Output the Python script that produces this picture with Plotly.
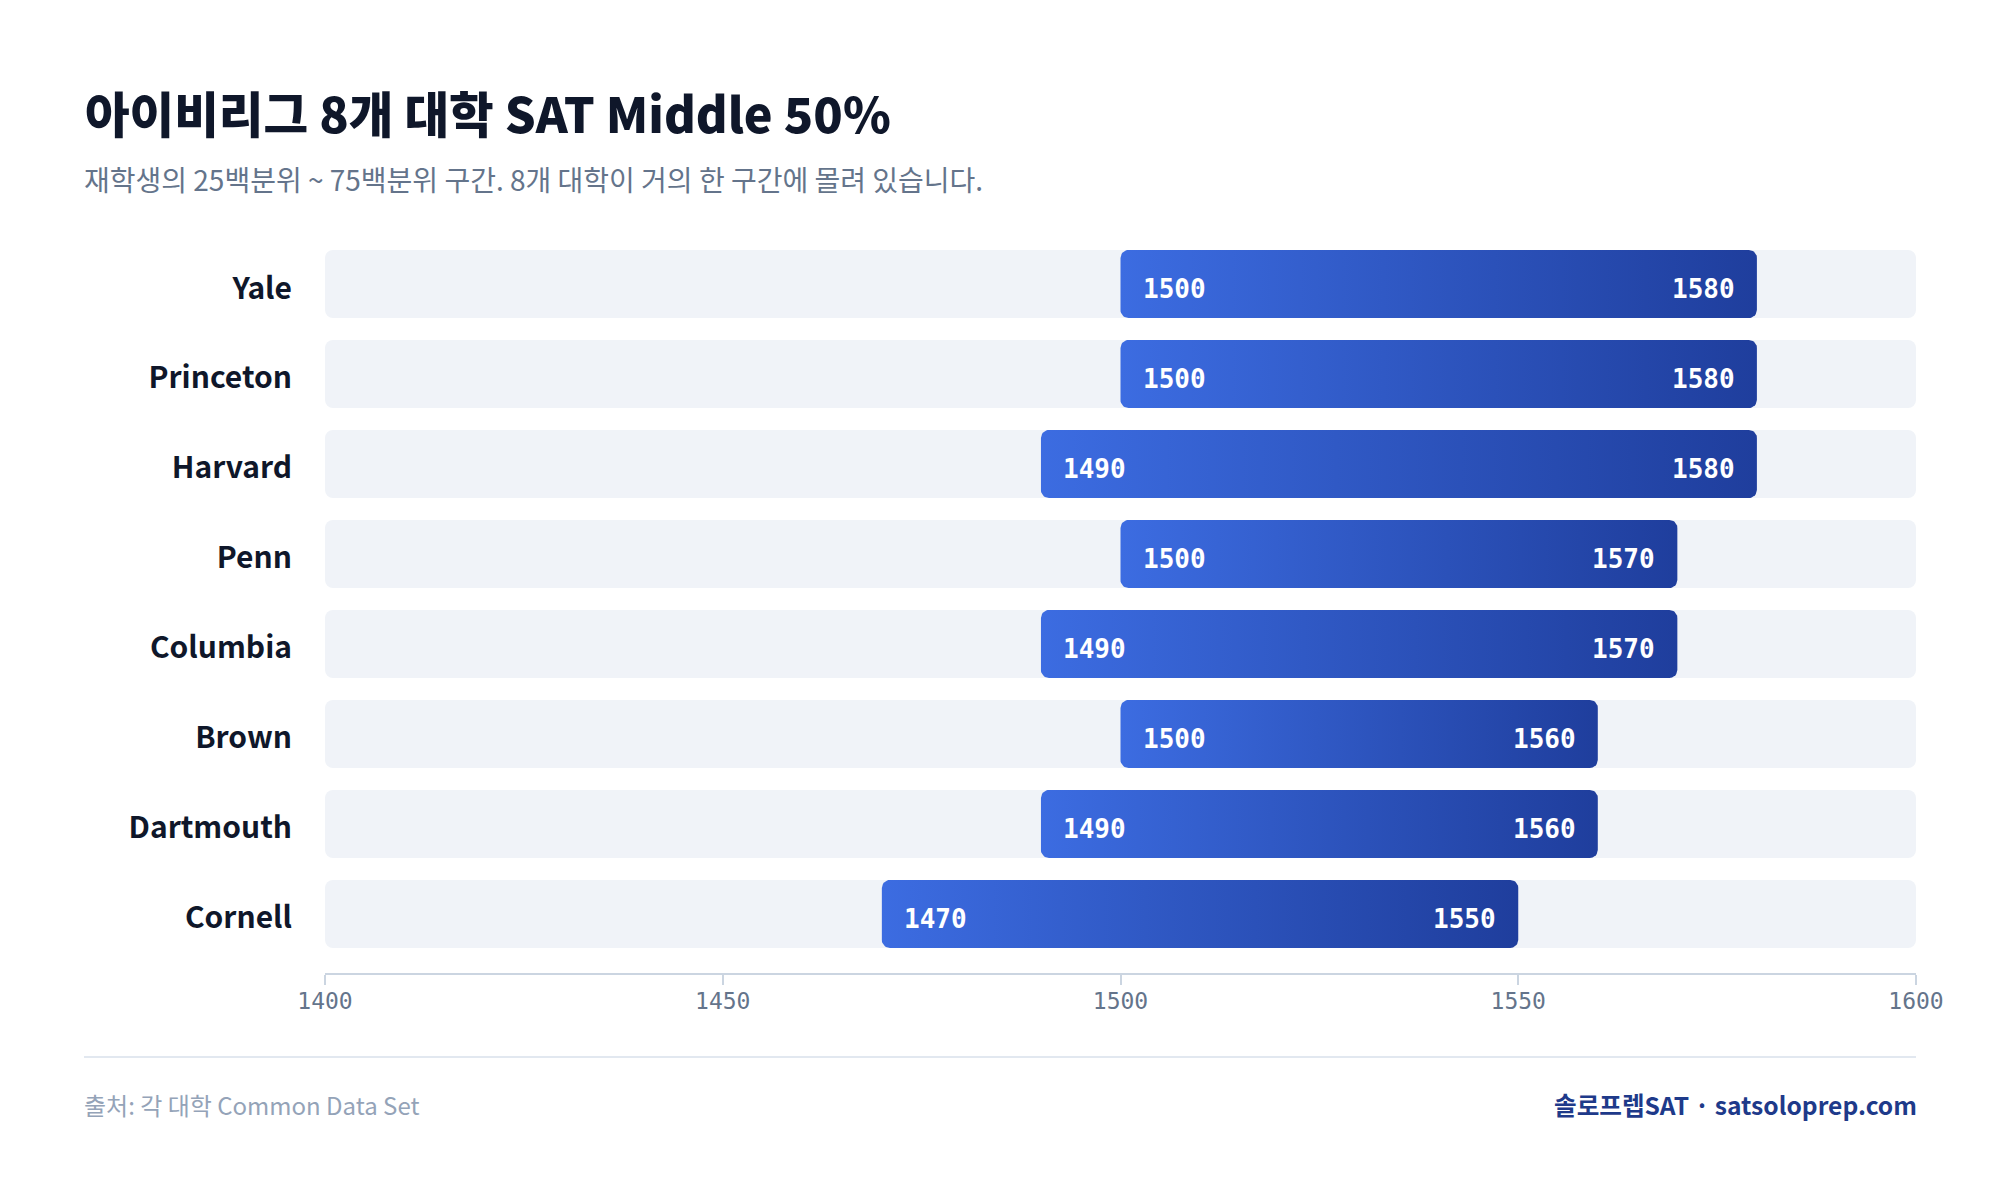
import numpy as np
import plotly.graph_objects as go

# data
schools = ['Yale', 'Princeton', 'Harvard', 'Penn', 'Columbia', 'Brown', 'Dartmouth', 'Cornell']
sat_25 = [1500, 1500, 1490, 1500, 1490, 1500, 1490, 1470]
sat_75 = [1580, 1580, 1580, 1570, 1570, 1560, 1560, 1550]
x_ticks = [1400, 1450, 1500, 1550, 1600]

title = '아이비리그 8개 대학 SAT Middle 50%'
subtitle = '재학생의 25백분위 ~ 75백분위 구간. 8개 대학이 거의 한 구간에 몰려 있습니다.'
source = '출처: 각 대학 Common Data Set'
brand = '솔로프렙SAT · satsoloprep.com'

# layout in screen pixels; the page body adds an 8px margin
OFF = 8
W, H = 2000 - OFF, 1180 - OFF
PLOT_L, PLOT_R, PLOT_T, PLOT_B = 325, 1916, 239, 973
L = PLOT_L - OFF
R = W - (PLOT_R - OFF)
T = PLOT_T - OFF
B = H - (PLOT_B - OFF)
plot_w = PLOT_R - PLOT_L
plot_h = PLOT_B - PLOT_T
X_MIN, X_MAX = x_ticks[0], x_ticks[-1]
Y_TOP, Y_BOT = -0.5, 7.656
BAR_W = 0.756
RADIUS = 8

px_per_x = plot_w / (X_MAX - X_MIN)
px_per_y = plot_h / (Y_BOT - Y_TOP)

KR = 'Noto Sans CJK KR'
MONO = 'DejaVu Sans Mono'


def px_to_paper_x(px):
    return (px - PLOT_L) / plot_w


def px_to_paper_y(py):
    return (PLOT_B - py) / plot_h


def rounded_bar(lo, hi, yc):
    # rounded rectangle in data units
    rx = RADIUS / px_per_x
    ry = RADIUS / px_per_y
    h = BAR_W / 2
    t = np.linspace(0, np.pi / 2, 10)
    xs, ys = [], []
    corners = [(hi - rx, yc - h + ry, 0), (hi - rx, yc + h - ry, 1),
               (lo + rx, yc + h - ry, 2), (lo + rx, yc - h + ry, 3)]
    for cx, cy, k in corners:
        a = -np.pi / 2 + k * np.pi / 2 + t
        xs.extend(cx + rx * np.cos(a))
        ys.extend(cy + ry * np.sin(a))
    xs.append(xs[0])
    ys.append(ys[0])
    return xs, ys


idx = list(range(len(schools)))
fig = go.Figure()

# background tracks
fig.add_trace(go.Bar(
    y=idx, x=[X_MAX - X_MIN] * len(schools), base=X_MIN, orientation='h',
    width=BAR_W, marker=dict(color='#f0f3f8', line=dict(width=0)),
    hoverinfo='skip', showlegend=False
))

# gradient range bars
for i, (lo, hi) in enumerate(zip(sat_25, sat_75)):
    xs, ys = rounded_bar(lo, hi, i)
    fig.add_trace(go.Scatter(
        x=xs, y=ys, mode='lines', fill='toself',
        line=dict(width=0, color='rgba(0,0,0,0)'),
        fillgradient=dict(type='horizontal',
                          colorscale=[[0, '#3c6ce1'], [1, '#1f3e9d']]),
        hoverinfo='skip', showlegend=False
    ))
    fig.add_annotation(x=lo, y=i, text=str(lo), showarrow=False, xanchor='left',
                       xshift=20, yshift=-5,
                       font=dict(family=MONO, size=26, color='white', weight=700))
    fig.add_annotation(x=hi, y=i, text=str(hi), showarrow=False, xanchor='right',
                       xshift=-20, yshift=-5,
                       font=dict(family=MONO, size=26, color='white', weight=700))

# subtitle and footer
fig.add_annotation(xref='paper', yref='paper', x=px_to_paper_x(82), y=px_to_paper_y(179),
                   xanchor='left', yanchor='middle', text=subtitle, showarrow=False,
                   font=dict(family=KR, size=28, color='#64748b'))
fig.add_annotation(xref='paper', yref='paper', x=px_to_paper_x(82), y=px_to_paper_y(1104),
                   xanchor='left', yanchor='middle', text=source, showarrow=False,
                   font=dict(family=KR, size=24, color='#94a3b8'))
fig.add_annotation(xref='paper', yref='paper', x=px_to_paper_x(1919), y=px_to_paper_y(1104),
                   xanchor='right', yanchor='middle', text=brand, showarrow=False,
                   font=dict(family=KR, size=24.6, color='#1e3a8a', weight=700))
fig.add_shape(type='line', xref='paper', yref='paper',
              x0=px_to_paper_x(84), x1=px_to_paper_x(1916),
              y0=px_to_paper_y(1057), y1=px_to_paper_y(1057),
              line=dict(color='#e2e8f0', width=2))

fig.update_layout(
    width=W, height=H,
    margin=dict(l=L, r=R, t=T, b=B, pad=0),
    paper_bgcolor='white', plot_bgcolor='white',
    barcornerradius=RADIUS,
    title=dict(text=title, x=(85 - OFF) / W, xanchor='left', xref='container',
               y=1 - (116 - OFF) / H, yanchor='middle', yref='container',
               font=dict(family=KR, size=48.5, color='#0f172a', weight=800)),
    xaxis=dict(range=[X_MIN, X_MAX], tickvals=x_ticks, showgrid=False, zeroline=False,
               showline=True, linecolor='#cbd5e1', linewidth=2,
               ticks='outside', ticklen=10, tickwidth=1.5, tickcolor='#cbd5e1',
               ticklabelstandoff=-4,
               tickfont=dict(family=MONO, size=23, color='#64748b'), fixedrange=True),
    yaxis=dict(range=[Y_BOT, Y_TOP], tickvals=idx, ticktext=schools, showgrid=False,
               zeroline=False, showline=False, ticks='', ticklabelstandoff=32,
               ticklabelshift=-4,
               tickfont=dict(family=KR, size=30, color='#0f172a', weight=700),
               fixedrange=True),
    showlegend=False,
)

fig.write_html('out.html')
